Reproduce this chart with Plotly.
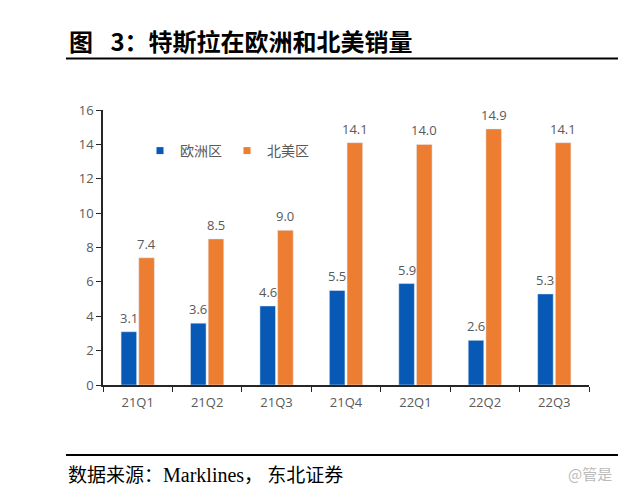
import plotly.graph_objects as go

categories = ["21Q1", "21Q2", "21Q3", "21Q4", "22Q1", "22Q2", "22Q3"]
europe = [3.1, 3.6, 4.6, 5.5, 5.9, 2.6, 5.3]
north_america = [7.4, 8.5, 9.0, 14.1, 14.0, 14.9, 14.1]
y_ticks = [0, 2, 4, 6, 8, 10, 12, 14, 16]
series_names = ["欧洲区", "北美区"]

BLUE = "#0759B5"
ORANGE = "#ED7D31"
CJK = "Noto Sans CJK SC"
LABEL_GREY = "#595959"

# plot area in screen pixels (page body adds an 8px offset)
X0, X1, Y0, Y1 = 103, 589, 110, 385
PW, PH = X1 - X0, Y1 - Y0
BARGAP, GROUPGAP = 0.49, 0.12

fig = go.Figure()
series = [(series_names[0], europe, BLUE), (series_names[1], north_america, ORANGE)]
for name, vals, col in series:
    fig.add_trace(go.Bar(name=name, x=categories, y=vals, marker_color=col,
                         showlegend=False, hoverinfo="x+y"))
    # legend proxies with small square symbols
    fig.add_trace(go.Scatter(name=name, x=[None], y=[None], mode="markers",
                             marker=dict(symbol="square", size=7, color=col),
                             showlegend=True))

# value labels above bars
cat_w = PW / len(categories)
slot = cat_w * (1 - BARGAP) / 2
for k, (name, vals, col) in enumerate(series):
    dx = (k - 0.5) * slot
    for c, v in zip(categories, vals):
        fig.add_annotation(x=c, y=v, xref="x", yref="y", text=f"{v:.1f}",
                           showarrow=False, xshift=dx, yshift=14,
                           xanchor="center", yanchor="middle",
                           font=dict(family="Open Sans", size=13, color=LABEL_GREY))

fig.update_layout(
    width=618, height=492,
    paper_bgcolor="white", plot_bgcolor="white",
    margin=dict(l=X0 - 8, r=618 - (X1 - 8), t=Y0 - 8, b=492 - (Y1 - 8)),
    barmode="group", bargap=BARGAP, bargroupgap=GROUPGAP,
    font=dict(family=CJK, color=LABEL_GREY, size=12),
    legend=dict(
        orientation="h", x=(140 - X0) / PW, y=(Y1 - 151) / PH,
        xanchor="left", yanchor="middle", entrywidth=42,
        font=dict(family=CJK, size=14, color=LABEL_GREY),
        bgcolor="rgba(0,0,0,0)", traceorder="normal",
    ),
    xaxis=dict(
        showline=True, linecolor="#262626", linewidth=1.5,
        ticks="outside", tickson="boundaries", ticklen=5, tickcolor="#262626",
        ticklabelstandoff=5,
        tickfont=dict(family="Open Sans", size=13, color=LABEL_GREY),
        showgrid=False,
    ),
    yaxis=dict(
        range=[0, 16], tickvals=y_ticks, showline=True, linecolor="#262626",
        linewidth=1.5, ticks="outside", ticklen=5, tickcolor="#262626",
        tickfont=dict(family="Open Sans", size=13, color=LABEL_GREY),
        showgrid=False, zeroline=False,
    ),
)


def px(x):
    return (x - X0) / PW


def py(y):
    return (Y1 - y) / PH


# Title
fig.add_annotation(
    text="<b>图\u2002 3：特斯拉在欧洲和北美销量</b>", xref="paper", yref="paper",
    x=px(67), y=py(41), xanchor="left", yanchor="middle",
    showarrow=False, font=dict(family=CJK, size=24, color="black"),
)
fig.add_shape(type="line", xref="paper", yref="paper",
              x0=px(66), x1=px(619), y0=py(58.5), y1=py(58.5),
              line=dict(color="black", width=2.2))
# Source line
fig.add_shape(type="line", xref="paper", yref="paper",
              x0=px(66), x1=px(619), y0=py(455), y1=py(455),
              line=dict(color="black", width=2.2))
fig.add_annotation(
    text="数据来源：<span style='font-family:Liberation Serif;font-size:20px'>Marklines</span>， 东北证券",
    xref="paper", yref="paper",
    x=px(66), y=py(473), xanchor="left", yanchor="middle",
    showarrow=False, font=dict(family=CJK, size=19, color="black"),
)
fig.add_annotation(
    text="@管是", xref="paper", yref="paper",
    x=px(614), y=py(473), xanchor="right", yanchor="middle",
    showarrow=False, font=dict(family=CJK, size=15, color="#BBBBBB"),
)

fig.write_html("out.html")
